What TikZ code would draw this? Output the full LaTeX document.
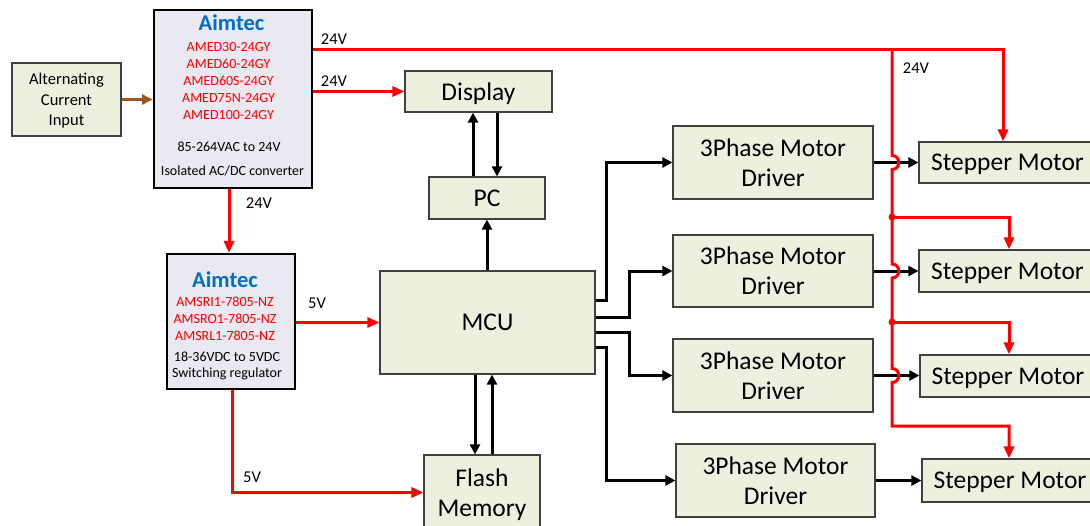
\documentclass[tikz,border=0pt]{standalone}
\usepackage{fontspec}
\setmainfont{Carlito}
\usetikzlibrary{arrows.meta}
\definecolor{boxgreen}{RGB}{235,241,222}
\definecolor{boxlav}{RGB}{234,232,241}
\definecolor{bordergray}{RGB}{64,64,64}
\definecolor{aimblue}{RGB}{0,112,192}
\definecolor{pwrred}{RGB}{255,0,0}
\definecolor{acbrown}{RGB}{160,85,30}
\begin{document}
\begin{tikzpicture}[x=1pt,y=-1pt,
  gbox/.style={draw=bordergray, line width=1.2pt, fill=boxgreen, inner sep=0pt, align=center,
    text depth=0pt, font=\fontsize{25.5}{30}\selectfont},
  abox/.style={draw=black, line width=2.2pt, fill=boxlav, inner sep=0pt},
  aimt/.style={inner sep=0pt, text depth=0pt, text=aimblue, font=\fontsize{22.5}{26}\selectfont\bfseries},
  redt/.style={inner sep=0pt, text depth=0pt, text=pwrred, font=\fontsize{14}{17}\selectfont},
  blkt/.style={inner sep=0pt, text depth=0pt, font=\fontsize{14}{17}\selectfont},
  lbl/.style={inner sep=0pt, text depth=0pt, font=\fontsize{16.5}{20}\selectfont},
  pwr/.style={draw=pwrred, line width=3pt},
  pwrarrow/.style={pwr, -{Triangle[length=12pt,width=10pt]}},
  sig/.style={draw=black, line width=3pt, -{Triangle[length=10pt,width=10pt]}},
  hop/.style={}
]
\useasboundingbox (0,0) rectangle (1090,525);

% ---- boxes ----
\node[gbox, minimum width=109pt, minimum height=73pt, font=\fontsize{16.5}{20.5}\selectfont]
  (ac) at (66.5,99.5) {Alternating\\Current\\Input};
\node[abox, minimum width=158pt, minimum height=178pt] (aim1) at (233,99) {};
\node[abox, minimum width=128pt, minimum height=135pt] (aim2) at (231,321.5) {};
\node[gbox, minimum width=147pt, minimum height=41pt] (display) at (478.5,91.5) {Display};
\node[gbox, minimum width=116pt, minimum height=42pt] (pc) at (487,198) {PC};
\node[gbox, minimum width=215pt, minimum height=103pt] (mcu) at (487.5,322.5) {MCU};
\node[gbox, minimum width=116pt, minimum height=75pt] (flash) at (482,492.5) {Flash\\Memory};
\node[gbox, minimum width=200pt, minimum height=73pt] (d1) at (773,162.5) {3Phase Motor\\Driver};
\node[gbox, minimum width=200pt, minimum height=72pt] (d2) at (773,271) {3Phase Motor\\Driver};
\node[gbox, minimum width=200pt, minimum height=73pt] (d3) at (773,375.5) {3Phase Motor\\Driver};
\node[gbox, minimum width=199pt, minimum height=73pt] (d4) at (775.5,480.5) {3Phase Motor\\Driver};
\node[gbox, minimum width=177pt, minimum height=41pt] (s1) at (1007.5,162.5) {Stepper Motor};
\node[gbox, minimum width=177pt, minimum height=42pt] (s2) at (1007.5,271) {Stepper Motor};
\node[gbox, minimum width=176pt, minimum height=42pt] (s3) at (1008,376) {Stepper Motor};
\node[gbox, minimum width=176pt, minimum height=43pt] (s4) at (1010,480.5) {Stepper Motor};

% ---- texts in the Aimtec boxes ----
\node[aimt] (aim1t) at (231.5,23) {Aimtec};
\foreach \t/\yy [count=\i] in {AMED30-24GY/47,AMED60-24GY/64,AMED60S-24GY/81,AMED75N-24GY/98,AMED100-24GY/115}
  \node[redt] (am\i) at (228.5,\yy) {\t};
\node[blkt] (aim1a) at (229,147) {85-264VAC to 24V};
\node[blkt] (aim1b) at (232.5,171) {Isolated AC/DC converter};

\node[aimt] (aim2t) at (225,280) {Aimtec};
\foreach \t/\yy [count=\i] in {AMSRI1-7805-NZ/302,AMSRO1-7805-NZ/319,AMSRL1-7805-NZ/336}
  \node[redt] (as\i) at (225,\yy) {\t};
\node[blkt] (aim2a) at (227,357) {18-36VDC to 5VDC};
\node[blkt] (aim2b) at (227,373) {Switching regulator};

% ---- labels ----
\node[lbl] (l1) at (334,39) {24V};
\node[lbl] (l2) at (334,81) {24V};
\node[lbl] (l3) at (916,68) {24V};
\node[lbl] (l4) at (259,203) {24V};
\node[lbl] (l5) at (317,303) {5V};
\node[lbl] (l6) at (252,477) {5V};

% ---- coordinates ----
\coordinate (busTop) at (892,49);
\coordinate (s1x) at (1003,49);
\coordinate (brx) at (1009,0);
\coordinate (j1) at (892,217);
\coordinate (j2) at (892,322);
\coordinate (busBot) at (892,426);
\coordinate (h1) at (d1.east -| busTop);
\coordinate (h2) at (d2.east -| busTop);
\coordinate (h3) at (d3.east -| busTop);
\coordinate (a12x) at (229,0);
\coordinate (f5x) at (232,0);
\coordinate (dpUp) at (473,0);
\coordinate (dpDn) at (497,0);
\coordinate (mfDn) at (475,0);
\coordinate (mfUp) at (492,0);
\coordinate (o1) at (606,300);
\coordinate (o2) at (629,317);
\coordinate (o3) at (629,332);
\coordinate (o4) at (606,347);

% ---- black signal connectors ----
\draw[sig] (pc.north -| dpUp) -- (display.south -| dpUp);
\draw[sig] (display.south -| dpDn) -- (pc.north -| dpDn);
\draw[sig] (mcu.north -| pc.south) -- (pc.south);
\draw[sig] (mcu.south -| mfDn) -- (flash.north -| mfDn);
\draw[sig] (flash.north -| mfUp) -- (mcu.south -| mfUp);
\draw[sig] (mcu.east |- o1) -- (o1) -- (o1 |- d1.west) -- (d1.west);
\draw[sig] (mcu.east |- o2) -- (o2) -- (o2 |- d2.west) -- (d2.west);
\draw[sig] (mcu.east |- o3) -- (o3) -- (o3 |- d3.west) -- (d3.west);
\draw[sig] (mcu.east |- o4) -- (o4) -- (o4 |- d4.west) -- (d4.west);
\draw[sig] (d1.east) -- (d1.east -| s1.west);
\draw[sig] (d2.east) -- (d2.east -| s2.west);
\draw[sig] (d3.east) -- (d3.east -| s3.west);
\draw[sig] (d4.east) -- (d4.east -| s4.west);

% ---- power connectors ----
\draw[line width=3.5pt, draw=acbrown, -{Triangle[length=11pt,width=10pt]}] (ac.east) -- (ac.east -| aim1.west);
\draw[pwrarrow] (aim1.east |- busTop) -- (s1x) -- (s1x |- s1.north);
\draw[pwrarrow] (aim1.east |- display.west) -- (display.west);
\draw[pwrarrow] (aim1.south -| a12x) -- (aim2.north -| a12x);
\draw[pwrarrow] (aim2.east |- mcu.west) -- (mcu.west);
\draw[pwrarrow] (aim2.south -| f5x) -- (f5x |- flash.west) -- (flash.west);
\draw[pwrarrow] (busTop)
  -- ([yshift=7pt]h1) .. controls ([shift={(9pt,7pt)}]h1) and ([shift={(9pt,-7pt)}]h1) .. ([yshift=-7pt]h1)
  -- ([yshift=7pt]h2) .. controls ([shift={(9pt,7pt)}]h2) and ([shift={(9pt,-7pt)}]h2) .. ([yshift=-7pt]h2)
  -- ([yshift=7pt]h3) .. controls ([shift={(9pt,7pt)}]h3) and ([shift={(9pt,-7pt)}]h3) .. ([yshift=-7pt]h3)
  -- (busBot) -- (busBot -| brx) -- (brx |- s4.north);
\draw[pwrarrow] (j1) -- (j1 -| brx) -- (brx |- s2.north);
\draw[pwrarrow] (j2) -- (j2 -| brx) -- (brx |- s3.north);
\fill[pwrred] (j1) circle (3.5pt);
\fill[pwrred] (j2) circle (3.5pt);
\end{tikzpicture}
\end{document}
